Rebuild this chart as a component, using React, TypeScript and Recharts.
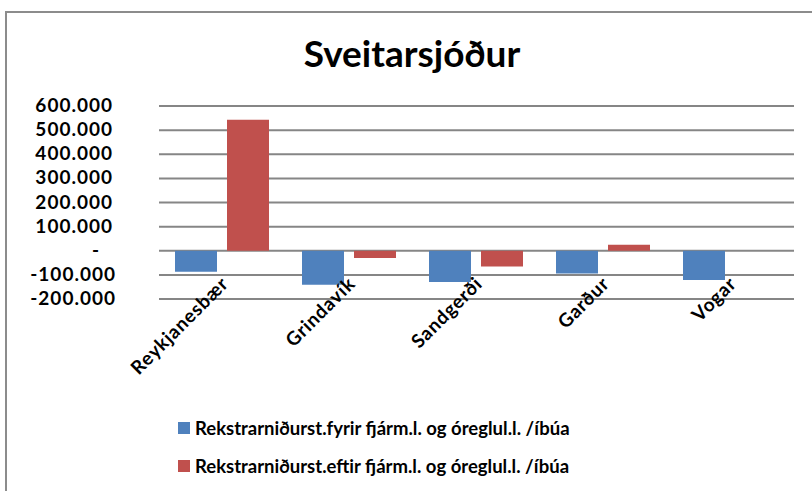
import { BarChart, Bar, XAxis, YAxis, CartesianGrid, Legend } from 'recharts';

const municipalities = ['Reykjanesbær', 'Grindavík', 'Sandgerði', 'Garður', 'Vogar'];
const beforeFinance = [-87000, -141000, -130000, -94000, -121000];
const afterFinance = [543000, -30000, -65000, 25000, 0];
const yTicks = [-200000, -100000, 0, 100000, 200000, 300000, 400000, 500000, 600000];

const seriesNames = [
  'Rekstrarniðurst.fyrir fjárm.l. og óreglul.l. /íbúa',
  'Rekstrarniðurst.eftir fjárm.l. og óreglul.l. /íbúa',
];
const seriesColors = ['#4F81BD', '#C0504D'];

const data = municipalities.map((name, i) => ({
  name,
  fyrir: beforeFinance[i],
  eftir: afterFinance[i],
}));

const FONT = 'Lato, "Open Sans", sans-serif';

function formatTick(v: number) {
  if (v === 0) return '-';
  return v.toLocaleString('de-DE');
}

// y labels: right edge ~113px, negatives a bit further right, the dash padded in
function YTick(props: any) {
  const { y, payload } = props;
  const v = payload.value;
  const xEnd = v === 0 ? 100 : v < 0 ? 116 : 113;
  return (
    <text
      x={xEnd}
      y={y}
      dy={6}
      textAnchor="end"
      fontFamily={FONT}
      fontWeight="bold"
      fontSize={19}
      letterSpacing={1}
      fill="#000"
    >
      {formatTick(v)}
    </text>
  );
}

function XTick(props: any) {
  const { x, payload } = props;
  const tx = x + 7;
  const ty = 285;
  return (
    <text
      x={tx}
      y={ty}
      textAnchor="end"
      transform={`rotate(-45 ${tx} ${ty})`}
      fontFamily={FONT}
      fontWeight="bold"
      fontSize={19}
      letterSpacing={0.8}
      fill="#000"
    >
      {payload.value}
    </text>
  );
}

function LegendContent() {
  return (
    <div style={{ fontFamily: FONT, fontWeight: 'bold', fontSize: 18.5, color: '#000' }}>
      {seriesNames.map((n, i) => (
        <div key={n} style={{ display: 'flex', alignItems: 'center', height: 38 }}>
          <span
            style={{
              display: 'inline-block',
              width: 12,
              height: 12,
              background: seriesColors[i],
              marginRight: 5,
            }}
          />
          {n}
        </div>
      ))}
    </div>
  );
}

export default function App() {
  return (
    <div style={{ position: 'absolute', left: 0, top: 0, width: 812, height: 491, background: '#fff', overflow: 'hidden' }}>
      <div
        style={{
          position: 'absolute',
          left: 5,
          top: 11,
          width: 820,
          height: 500,
          borderLeft: '2px solid #8c8c8c',
          borderTop: '2px solid #8c8c8c',
        }}
      />
      <div
        style={{
          position: 'absolute',
          left: 0,
          top: 30,
          width: 824,
          textAlign: 'center',
          fontFamily: FONT,
          fontWeight: 'bold',
          fontSize: 37,
          color: '#000',
        }}
      >
        Sveitarsjóður
      </div>
      <div style={{ position: 'absolute', left: 0, top: 0 }}>
        <BarChart
          width={812}
          height={491}
          data={data}
          margin={{ top: 106, right: 18, bottom: 0, left: 0 }}
          barCategoryGap="12.6%"
          barGap={10}
        >
          <CartesianGrid vertical={false} stroke="#868686" strokeWidth={2} />
          <XAxis
            dataKey="name"
            axisLine={false}
            tickLine={false}
            height={192}
            interval={0}
            tick={<XTick />}
          />
          <YAxis
            width={159}
            domain={[-200000, 600000]}
            ticks={yTicks}
            axisLine={false}
            tickLine={false}
            tick={<YTick />}
          />
          <Legend
            layout="vertical"
            align="center"
            verticalAlign="middle"
            wrapperStyle={{ left: 178, top: 409, width: 600 }}
            content={<LegendContent />}
          />
          <Bar dataKey="fyrir" name={seriesNames[0]} fill={seriesColors[0]} isAnimationActive={false} />
          <Bar dataKey="eftir" name={seriesNames[1]} fill={seriesColors[1]} isAnimationActive={false} />
        </BarChart>
      </div>
    </div>
  );
}
